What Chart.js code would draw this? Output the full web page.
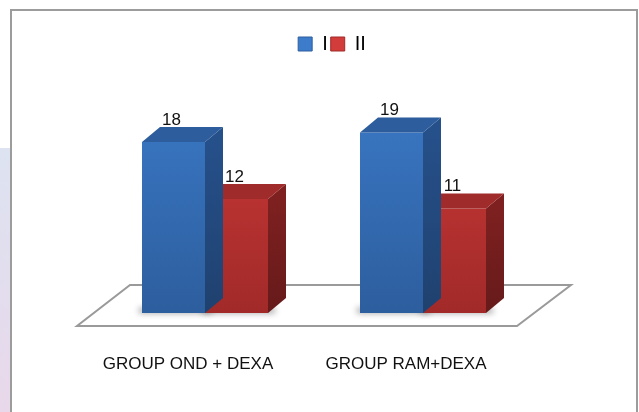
<!DOCTYPE html>
<html>
<head>
<meta charset="utf-8">
<script src="https://cdn.jsdelivr.net/npm/chart.js@4.4.1/dist/chart.umd.min.js"></script>
<style>
  body { margin: 0; background: #fff; }
  #wrap { position: relative; width: 639px; height: 412px; overflow: hidden; }
  #strip { position: absolute; left: 0; top: 148px; width: 10px; height: 264px;
    background: linear-gradient(#dde3f1, #e8d8ea); }
  #frame { position: absolute; left: 10px; top: 9px; width: 624px; height: 420px;
    border: 2px solid #9c9c9c; }
  #myChart { position: absolute; left: 0; top: 0; }
</style>
</head>
<body>
<div id="wrap">
  <div id="strip"></div>
  <div id="frame"></div>
  <canvas id="myChart" width="639" height="412"></canvas>
</div>
<script>
// chart data
var groups = ["GROUP OND + DEXA", "GROUP RAM+DEXA"];
var seriesNames = ["I", "II"];
var seriesI = [18, 19];
var seriesII = [12, 11];

// colours for each series: front top, front bottom, side, top face
var frontTop = ["#3c7ccb", "#d23c3a"];
var frontBottom = ["#2d5e9e", "#a12a29"];
var sideColor = ["#26508a", "#7e2020"];
var sideBottom = ["#1f416f", "#661a1a"];
var topColor = ["#2d5d9c", "#9f2b2a"];

var depthX = 18;
var depthY = 15;
var fontFamily = "'Liberation Sans', Arial, sans-serif";

function frontGradient(i) {
    return function(context) {
        var chart = context.chart;
        var area = chart.chartArea;
        if (!area) return frontTop[i];
        var g = chart.ctx.createLinearGradient(0, area.top, 0, area.bottom);
        g.addColorStop(0, frontTop[i]);
        g.addColorStop(1, frontBottom[i]);
        return g;
    };
}

// draws the floor, the side + top faces and the value labels
var bars3d = {
    id: "bars3d",
    afterLayout: function(chart) {
        // legend sits a little right of the plot centre in the original
        chart.legend.left += 18;
        chart.legend.right += 18;
    },
    beforeDatasetsDraw: function(chart) {
        var ctx = chart.ctx;
        var a = chart.chartArea;
        var base = chart.scales.y.getPixelForValue(0);
        ctx.save();
        ctx.beginPath();
        ctx.moveTo(a.left - 19, base + 13);
        ctx.lineTo(a.right - 15, base + 13);
        ctx.lineTo(a.right + 39, base - 28);
        ctx.lineTo(a.left + 34, base - 28);
        ctx.closePath();
        ctx.fillStyle = "#ffffff";
        ctx.fill();
        ctx.lineWidth = 2;
        ctx.strokeStyle = "#9a9a9a";
        ctx.stroke();
        // soft shadows under the bars (only the blur is on screen)
        chart.data.datasets.forEach(function(ds, i) {
            chart.getDatasetMeta(i).data.forEach(function(bar) {
                var p = bar.getProps(["x", "base", "width"], true);
                ctx.save();
                ctx.shadowColor = "rgba(0,0,0,0.4)";
                ctx.shadowBlur = 6;
                ctx.shadowOffsetX = 1000;
                ctx.fillStyle = "#000";
                ctx.fillRect(p.x - p.width / 2 - 3 - 1000, p.base - 5, p.width + 10, 5);
                ctx.restore();
            });
        });
        ctx.restore();
    },
    afterDatasetDraw: function(chart, args) {
        var ctx = chart.ctx;
        var i = args.index;
        ctx.save();
        args.meta.data.forEach(function(bar, j) {
            var p = bar.getProps(["x", "y", "base", "width"], true);
            var l = p.x - p.width / 2;
            var r = p.x + p.width / 2;
            // side face
            var g = ctx.createLinearGradient(0, p.y, 0, p.base);
            g.addColorStop(0, sideColor[i]);
            g.addColorStop(1, sideBottom[i]);
            ctx.fillStyle = g;
            ctx.beginPath();
            ctx.moveTo(r, p.y);
            ctx.lineTo(r + depthX, p.y - depthY);
            ctx.lineTo(r + depthX, p.base - depthY);
            ctx.lineTo(r, p.base);
            ctx.closePath();
            ctx.fill();
            // top face
            ctx.fillStyle = topColor[i];
            ctx.beginPath();
            ctx.moveTo(l, p.y);
            ctx.lineTo(r, p.y);
            ctx.lineTo(r + depthX, p.y - depthY);
            ctx.lineTo(l + depthX, p.y - depthY);
            ctx.closePath();
            ctx.fill();
            // value label
            ctx.fillStyle = "#111111";
            ctx.font = "17px " + fontFamily;
            ctx.textAlign = "center";
            ctx.textBaseline = "alphabetic";
            ctx.fillText(chart.data.datasets[i].data[j], p.x - 2, p.y - depthY - 2);
        });
        ctx.restore();
    }
};

var myChart = new Chart(document.getElementById("myChart"), {
    type: "bar",
    data: {
        labels: groups,
        datasets: [{
            label: seriesNames[0],
            data: seriesI,
            backgroundColor: frontGradient(0)
        }, {
            label: seriesNames[1],
            data: seriesII,
            backgroundColor: frontGradient(1)
        }]
    },
    options: {
        responsive: false,
        animation: false,
        layout: {
            padding: { left: 96, right: 107, top: 31, bottom: 0 }
        },
        datasets: {
            bar: { barPercentage: 1, categoryPercentage: 0.578 }
        },
        plugins: {
            tooltip: { enabled: false },
            legend: {
                position: "top",
                labels: {
                    boxWidth: 14,
                    boxHeight: 14,
                    padding: 3,
                    color: "#111111",
                    font: { family: fontFamily, size: 20 },
                    generateLabels: function(chart) {
                        return chart.data.datasets.map(function(ds, i) {
                            return {
                                text: ds.label,
                                fillStyle: frontTop[i],
                                strokeStyle: frontBottom[i],
                                lineWidth: 1,
                                datasetIndex: i
                            };
                        });
                    }
                }
            }
        },
        scales: {
            x: {
                grid: { display: false, drawTicks: false },
                border: { display: false },
                afterFit: function(axis) {
                    axis.height = 99;
                },
                ticks: {
                    padding: 41,
                    labelOffset: -17,
                    color: "#111111",
                    font: { family: fontFamily, size: 17 }
                }
            },
            y: {
                display: false,
                min: 0,
                max: 26.2
            }
        }
    },
    plugins: [bars3d]
});
</script>
</body>
</html>
